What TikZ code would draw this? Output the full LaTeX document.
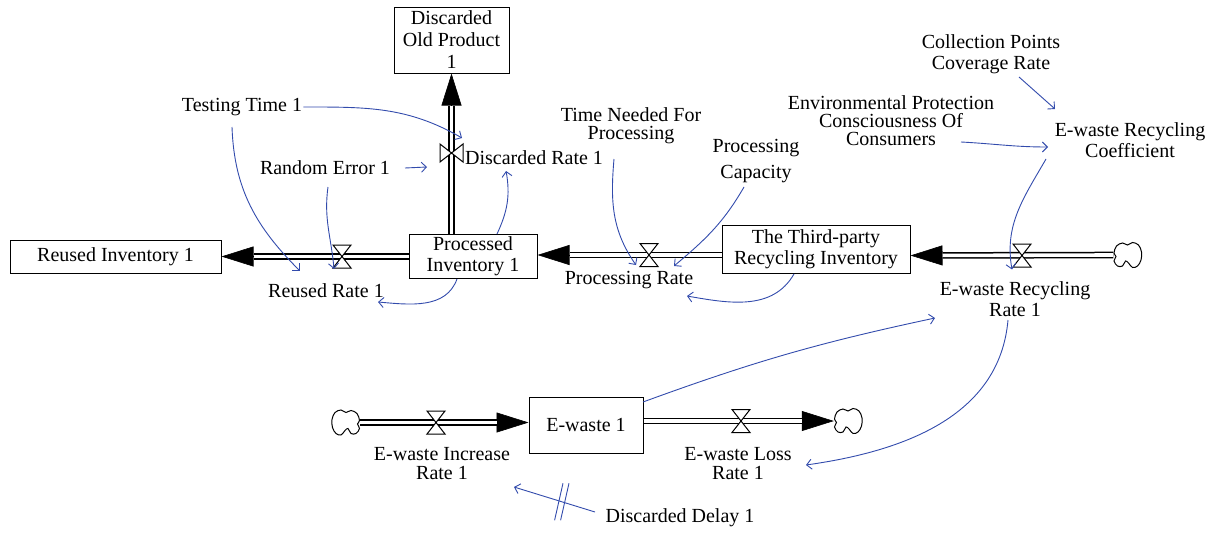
\documentclass[tikz,border=0pt]{standalone}
\usepackage{fontspec}
\setmainfont{Liberation Serif}
\usetikzlibrary{arrows.meta,calc}
\definecolor{linkblue}{RGB}{50,75,172}
\begin{document}
\begin{tikzpicture}[x=1pt,y=1pt,
  every node/.style={font=\fontsize{20}{21}\selectfont},
  stock/.style={draw, line width=1pt, align=center, inner sep=0pt},
  var/.style={align=center, inner sep=1pt},
  link/.style={draw=linkblue, line width=0.9pt, -{Straight Barb[length=5pt,width=10pt]}},
  pipe/.style={draw=black, line width=1.5pt, double=white, double distance=3.6pt, shorten >=32pt},
  flowhead/.style={draw=black, line width=0.6pt, -{Triangle[length=32pt,width=20pt]}},
  source/.style={minimum width=28pt, minimum height=25pt, inner sep=0pt},
  cloudpic/.pic={\draw[line width=1pt, fill=white] plot[smooth cycle, tension=0.6] coordinates
      {(-13.5,2) (-11,9) (-5,12) (0,10) (5,12.5) (11,10) (14,3) (13.5,-5) (10,-11)
       (5,-12.5) (1,-8) (-2,-6) (-5,-11) (-10,-11) (-13.5,-6) (-11.5,-1.5)};},
  valve/.pic={\draw[line width=1pt, fill=white] (-9,11.5) -- (9,11.5) -- (-9,-11.5) -- (9,-11.5) -- cycle;},
  hash/.style={draw=linkblue, line width=0.9pt}
]
\useasboundingbox (0,0) rectangle (1218,-533);

% stocks
\node[stock, minimum width=211pt, minimum height=33pt] (reinv) at (115.5,-256.5) {Reused Inventory 1};
\node[stock, minimum width=128pt, minimum height=44pt] (procinv) at (473,-256) {Processed\\Inventory 1};
\node[stock, minimum width=115pt, minimum height=66pt, font=\fontsize{20}{22}\selectfont] (discold) at (451.5,-40) {Discarded\\Old Product\\1};
\node[stock, minimum width=188pt, minimum height=48pt] (third) at (816,-249) {The Third-party\\Recycling Inventory};
\node[stock, minimum width=114pt, minimum height=56pt] (ewaste) at (586,-425) {E-waste 1};

% valve positions
\coordinate (rvalve) at (342,-256.5);
\coordinate (dvalve) at (451.5,-153);
\coordinate (pvalve) at (649,-255);
\coordinate (wvalve) at (1022,-255.5);
\coordinate (ivalve) at (436,-422.5);
\coordinate (lvalve) at (741,-421);

% sources and sinks
\node[source] (cloudR) at (1127.5,-255) {};
\node[source] (cloudL) at (346,-422.5) {};
\node[source] (cloudE) at (848,-421) {};

% flows
\draw[flowhead] (procinv.west |- rvalve) -- (reinv.east |- rvalve);
\draw[pipe] (procinv.west |- rvalve) -- (reinv.east |- rvalve);
\draw[flowhead] (procinv.north -| dvalve) -- (discold.south -| dvalve);
\draw[pipe] (procinv.north -| dvalve) -- (discold.south -| dvalve);
\draw[flowhead] (third.west |- pvalve) -- (procinv.east |- pvalve);
\draw[pipe] (third.west |- pvalve) -- (procinv.east |- pvalve);
\draw[flowhead] (cloudR.west) -- (third.east |- wvalve);
\draw[pipe] (cloudR.west) -- (third.east |- wvalve);
\draw[flowhead] (cloudL.east) -- (ewaste.west |- ivalve);
\draw[pipe] (cloudL.east) -- (ewaste.west |- ivalve);
\draw[flowhead] (ewaste.east |- lvalve) -- (cloudE.west);
\draw[pipe] (ewaste.east |- lvalve) -- (cloudE.west);

\pic at (cloudR) {cloudpic};
\pic[xscale=-1] at (cloudL) {cloudpic};
\pic at (cloudE) {cloudpic};

\pic at (rvalve) {valve};
\pic[rotate=90] at (dvalve) {valve};
\pic at (pvalve) {valve};
\pic at (wvalve) {valve};
\pic at (ivalve) {valve};
\pic at (lvalve) {valve};

% variables
\node[var] (reusedrate) at (326,-291) {Reused Rate 1};
\node[var, anchor=west] (discrate) at (464,-158) {Discarded Rate 1};
\node[var] (procrate) at (629,-280) {Processing Rate};
\node[var] (ewrr) at (1015,-299.5) {E-waste Recycling\\Rate 1};
\node[var, font=\fontsize{20}{19}\selectfont] (incr) at (442,-464) {E-waste Increase\\Rate 1};
\node[var, font=\fontsize{20}{19}\selectfont] (loss) at (738,-464) {E-waste Loss\\Rate 1};
\node[var] (testing) at (242,-107) {Testing Time 1};
\node[var] (randerr) at (325,-168) {Random Error 1};
\node[var, font=\fontsize{20}{18}\selectfont] (timeneed) at (631,-126) {Time Needed For\\Processing};
\node[var, font=\fontsize{20}{26}\selectfont] (capacity) at (756,-161) {Processing\\Capacity};
\node[var, font=\fontsize{20}{18}\selectfont] (envprot) at (891,-121) {Environmental Protection\\Consciousness Of\\Consumers};
\node[var] (collect) at (991,-54.5) {Collection Points\\Coverage Rate};
\node[var] (coef) at (1130,-140.5) {E-waste Recycling\\Coefficient};
\node[var] (delay) at (680,-518) {Discarded Delay 1};

% information links
\draw[link] (testing.east) to[out=0,in=150] ([shift={(-2,20)}]discrate.west);
\draw[link] ([shift={(-10,-20)}]testing.center) to[out=-88,in=135] ([shift={(-26,20)}]reusedrate.center);
\draw[link] ([shift={(80,0)}]randerr.center) -- ([shift={(-24.5,-14)}]dvalve);
\draw[link] ([shift={(3,-19)}]randerr.center) to[out=-98,in=95] ([shift={(8,22)}]reusedrate.center);
\draw[link] ([shift={(24,22)}]procinv.center) to[out=65,in=-80] ([shift={(-28,-13)}]discrate.center);
\draw[link] ([shift={(-16,-23)}]procinv.center) to[out=-110,in=-5] ([shift={(52,-11)}]reusedrate.center);
\draw[link] ([shift={(-17,-33)}]timeneed.center) to[out=-95,in=125] ([shift={(7,15)}]procrate.center);
\draw[link] ([shift={(-12,-26)}]capacity.center) to[out=-120,in=40] ([shift={(45,14)}]procrate.center);
\draw[link] ([shift={(-22,-25)}]third.center) to[out=-120,in=-10] ([shift={(58,-16)}]procrate.center);
\draw[link] ([shift={(70,-21)}]envprot.center) to[out=-3,in=180] ([shift={(-82,-6.5)}]coef.center);
\draw[link] ([shift={(28,-22.5)}]collect.center) -- ([shift={(-75,31.5)}]coef.center);
\draw[link] ([shift={(-84,-18.5)}]coef.center) to[out=-120,in=100] ([shift={(-10,-14)}]wvalve);
\draw[link] ([shift={(57,23)}]ewaste.center) to[bend left=4] ([shift={(-80,-18.5)}]ewrr.center);
\draw[link] ([shift={(-7,-20.5)}]ewrr.center) to[out=-95,in=8] ([shift={(68,-1)}]loss.center);
\draw[link] ([shift={(-85,6)}]delay.center) -- coordinate[pos=0.41] (dmark) ([shift={(72,-23)}]incr.center);
\draw[hash] ([shift={(-7.2,-18.5)}]dmark) -- ([shift={(1.2,18.5)}]dmark);
\draw[hash] ([shift={(-1.2,-18.5)}]dmark) -- ([shift={(7.2,18.5)}]dmark);
\end{tikzpicture}
\end{document}
